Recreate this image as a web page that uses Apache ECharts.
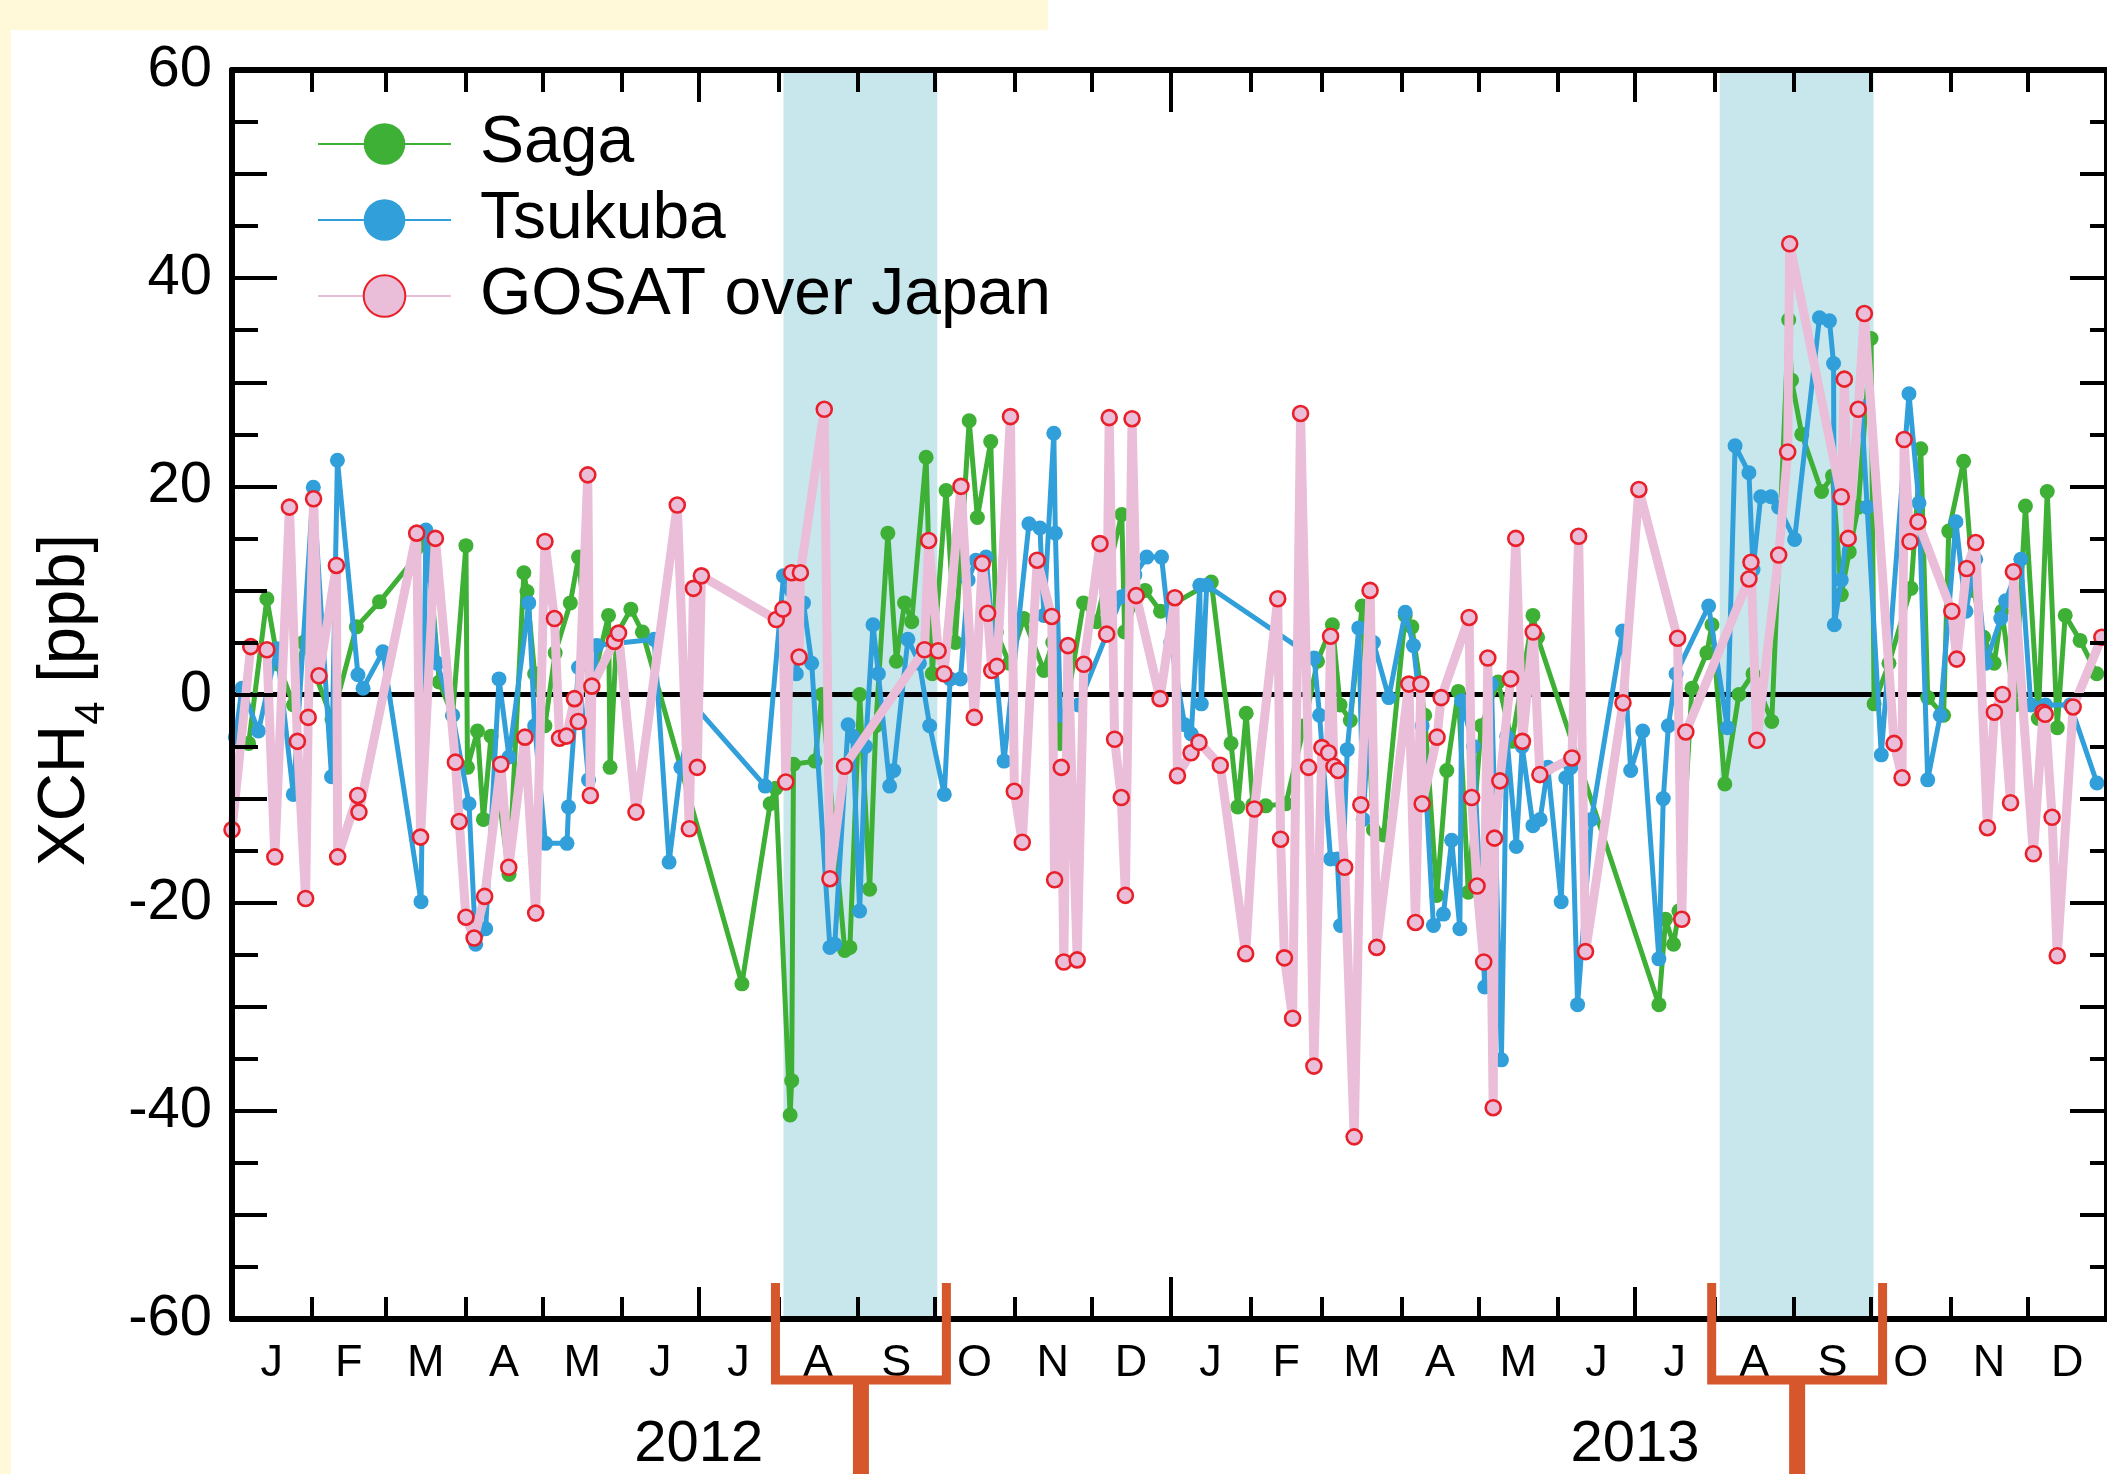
<!DOCTYPE html>
<html><head><meta charset="utf-8">
<script src="https://cdn.jsdelivr.net/npm/echarts@6/dist/echarts.min.js"></script>
<style>html,body{margin:0;padding:0;background:#fff;overflow:hidden}#c{width:2107px;height:1474px}</style>
</head><body><div id="c"></div>
<script>
// ---- data (x = days since 2012-01-01, y = XCH4 anomaly in ppb) ----
const monthLetters = ['J','F','M','A','M','J','J','A','S','O','N','D','J','F','M','A','M','J','J','A','S','O','N','D'];
const monthStartDays = [0,31,60,91,121,152,182,213,244,274,305,335,366,397,425,456,486,517,547,578,609,639,670,700,731];
const yearLabels = ['2012','2013'];
const halfYearDays = [182,547];
const yearStartDays = [366];
const shadedPeriods = [[215,275],[580,640]];
const yTicks = [-60,-40,-20,0,20,40,60];

const sagaDays = [6.5,13.6,18.1,24,27.8,39,48.5,57.5,76.3,80.8,86,91.2,91.8,95.7,98,101,108,113.8,115,118,122,126,131.9,135.1,140,146.8,147.4,150,155.5,160,198.8,209.8,212,217.6,218.2,218.9,227.3,230,238.9,240.9,244.7,248.6,251,255.7,259,262.2,265,270.6,273,278.4,282,287.4,290.6,295.8,298,303,308.7,316.5,320,322.9,332,337,346.9,348,353.3,356,362,381.8,389.5,392.1,395.4,398,403,410.9,418,423.2,429,432,436,440.6,445,449,457.4,460,465,469.7,473.6,478.1,482,487,493.6,499,507.2,509,556.3,558.9,562,564.1,569.2,575,577,582,587.5,593,600.3,606.9,608,612,619.7,624,627.4,630.5,634,639,640.2,646,654.6,658.4,661.1,667.3,669.3,675.1,679,682.9,687,690,695,699.2,704.2,707.7,711.6,714.7,720.5,727];
const sagaValues = [-4.7,9.2,2.9,-1,5,-2.4,6.5,8.9,14.6,1.2,-2,14.3,-7,-3.5,-12,-4,-17.3,11.7,9.9,2,-3,4,8.8,13.2,0.5,7.6,-7,5.8,8.2,6,-27.8,-10.5,-9,-40.4,-37.1,-6.7,-6.4,0,-24.6,-24.3,0,-18.7,-3,15.5,3.2,8.8,7,22.8,2,19.6,5,26.3,17,24.3,6,3,7.3,2.3,5,-4.7,8.8,7,17.3,6,9.6,10,8,10.8,-4.7,-10.8,-1.8,-10.6,-10.7,-10.5,-3,3.2,6.7,-1,-2.5,8.5,-13,-13.5,7.6,6.5,-2,-19.3,-7.3,0.3,-19,-3,1.2,-4.5,7.6,5.5,-29.8,-21.6,-24,-20.8,0.6,4,6.7,-8.6,0,2,-2.6,36,30.2,25,19.5,21,9.6,13.7,18,34.2,-0.9,3,10.2,23.6,-0.3,-2,15.7,22.4,10,5.5,3,8,-1,18.1,-2.3,19.5,-3.2,7.6,5.2,2];

const tsukubaDays = [1.3,3.9,10.3,17.5,23.9,31.7,38.8,41.1,49.1,51.1,58.8,73.7,75.6,80,86,92.4,95,98.9,104.1,108,115.7,118,122.2,130.6,131.2,135.1,139,142.2,164.6,170.4,175,180,207.9,215,218,220,222.8,226,233.1,235,240.2,242,244.7,247,249.9,252,256.4,258,263.5,268,272,277.7,280,284,287,290,294,301,310.7,315,316.5,320.4,321,323,330,346.9,352,356.6,362.4,366,371.4,374,377.3,377.9,380,421.9,424,428.3,430.9,432.2,434.8,439.3,441,445,451,457.4,460.6,464,468.4,472.3,475.5,478.7,479.4,484,488.4,491,494.9,497,500.7,503,507.2,510,513,518.2,520,522,524.6,530,542.1,545.3,550,556.3,558,560,563,575.7,583,586,591.4,593,596,600,603,609.2,618.9,622.8,624.4,624.7,627.4,635.2,637.5,643,653.8,657.7,661.1,666,672.1,676,679.8,683.7,689.6,691.5,697.4,701.3,707,716.7,727.1];
const tsukubaValues = [-4.1,0.6,-3.5,4.4,-9.6,19.9,-7.9,22.5,1.9,0.6,4.1,-19.9,15.8,3,-2,-10.5,-24,-22.5,1.5,-6,8.8,-3,-14.3,-14.3,-10.8,2.6,-8.2,4.7,5.3,-16.1,-7,-1,-8.8,11.4,10,2,8.8,3,-24.3,-24,-2.9,-4,-20.8,-5,6.7,2,-8.8,-7.3,5.3,3,-3,-9.6,1.5,1.5,11,12.9,13.2,-6.4,16.4,16,7.6,25.1,15.5,-2,-1,9.4,11.5,13.2,13.2,5,-2.9,-3.8,10.5,-0.9,10.5,3.5,-2,-15.8,-15.8,-22.2,-5.3,6.4,-12,5,-0.3,7.9,4.7,-3,-22.2,-21.1,-14,-22.5,-0.6,-5,-28.1,1,-35.1,-4,-14.6,-5,-12.6,-12,-7,-19.9,-8,-7,-29.8,-12,6.1,-7.3,-3.5,-25.4,-10,-3,2,8.5,-3.2,23.9,21.3,12,19,19,18,14.9,36.2,35.9,31.8,6.7,11,27.7,18,-5.8,28.9,18.4,-8.2,-2,16.6,8,13,3,7.3,9,13,-1,-1,-1,-8.5];

const gosatDays = [0,7.3,13.6,16.7,22.4,25.5,28.7,29.7,31.8,33.9,40.7,41.2,49,49.5,72,73.5,79.3,87.1,88.6,91.2,94.4,98.5,104.8,107.9,114.2,118.4,122,125.7,127.7,130.4,133.5,135,138.7,139.7,140.3,149.1,150.7,157.5,173.6,178.3,179.9,181.4,183,212.2,214.8,215.9,218.2,221.1,221.6,230.9,233.1,238.8,270,271.6,275.3,277.6,284.2,289.4,292.5,294.6,296.2,298.2,303.5,305,308.1,313.9,319.6,320.7,323.3,324.3,325.9,329.5,332.1,338.4,341,342,344.1,346.7,348.3,350.9,352.5,361.8,367.6,368.6,373.9,377,385.3,395.2,398.6,407.7,408.8,410.3,413.5,416.6,419.7,421.8,424.9,427.5,428.3,429.6,431.2,433.8,437.5,440.1,443.7,446.3,458.8,461.4,463.5,464,469.8,471.4,482.3,483.3,485.4,488,489.6,491.7,492.2,494.3,498.5,500.5,503.1,507.3,509.9,522.4,525,527.7,542.3,548.5,563.6,565.2,566.8,591.4,592.2,594.5,603,606.5,607.3,627.4,628.6,630.1,634,636.4,648,651.1,651.9,654.2,657.3,670.5,672.4,676.3,679.8,684.4,687.1,690.2,693.4,694.5,702.3,706.1,706.9,709.6,711.6,717.8,729];
const gosatValues = [-13,4.6,4.3,-15.6,18,-4.5,-19.6,-2.2,18.8,1.8,12.4,-15.6,-9.7,-11.3,15.5,-13.7,15,-6.5,-12.2,-21.4,-23.4,-19.4,-6.7,-16.6,-4.1,-21,14.7,7.3,-4.2,-4,-0.4,-2.6,21.1,-9.7,0.8,5.1,5.9,-11.3,18.2,-12.9,10.2,-7,11.4,7.2,8.2,-8.4,11.7,3.6,11.7,27.4,-17.7,-6.9,4.3,14.8,4.2,2,20,-2.2,12.6,7.8,2.3,2.7,26.7,-9.3,-14.2,12.9,7.5,-17.8,-7,-25.7,4.7,-25.5,2.9,14.5,5.8,26.6,-4.3,-9.9,-19.3,26.5,9.5,-0.4,9.3,-7.8,-5.6,-4.6,-6.8,-24.9,-11,9.2,-13.9,-25.3,-31.1,27,-7,-35.7,-5.1,-5.6,5.6,-6.9,-7.3,-16.6,-42.5,-10.6,10,-24.3,1,-21.9,1,-10.5,-4.1,-0.3,7.4,-9.9,-18.4,-25.7,3.5,-39.7,-13.8,-8.3,1.5,15,-4.5,6,-7.7,-6.1,15.2,-24.7,-0.8,19.7,5.4,-21.6,-3.6,11.1,12.7,-4.4,13.4,23.3,43.3,19,30.3,15,27.4,36.6,-4.7,-8,24.5,14.7,16.6,8,3.4,12.1,14.6,-12.8,-1.7,0,-10.4,11.8,-15.3,-1.7,-1.9,-11.8,-25.1,-1.2,5.5];

// ---- chart ----
const FONT = '"Liberation Sans", Arial, Helvetica, sans-serif';
const pairs = (xs, ys) => xs.map((x, i) => [x, ys[i]]);
const monthMidDays = monthStartDays.slice(0, -1).map((d, i) => (d + monthStartDays[i + 1]) / 2);
const tickLine = {color: '#000', width: 4};
const axisLineStyle = {color: '#000', width: 6};

function xAx(pos, ticks, len, extra) {
  return Object.assign({
    type: 'value', position: pos, min: 0, max: 731, z: 10,
    splitLine: {show: false},
    axisLine: {show: false, onZero: false},
    axisLabel: {show: false},
    axisTick: {show: true, inside: true, length: len, lineStyle: tickLine, customValues: ticks}
  }, extra || {});
}
function yAx(pos, interval, len, extra) {
  return Object.assign({
    type: 'value', position: pos, min: -60, max: 60, interval: interval, z: 10,
    splitLine: {show: false},
    axisLine: {show: false, onZero: false},
    axisLabel: {show: false},
    axisTick: {show: true, inside: true, length: len, lineStyle: tickLine}
  }, extra || {});
}

const chart = echarts.init(document.getElementById('c'), null, {renderer: 'canvas'});
const option = {
  animation: false,
  backgroundColor: 'transparent',
  textStyle: {fontFamily: FONT},
  grid: {left: 232, top: 70, width: 1885, height: 1260, containLabel: false},
  xAxis: [
    xAx('bottom', monthStartDays.slice(1, -1), 22, {
      axisLine: {show: true, onZero: false, lineStyle: axisLineStyle},
      axisLabel: {show: true, customValues: monthMidDays, fontSize: 45, color: '#000', fontFamily: FONT, margin: 22,
        formatter: v => monthLetters[monthMidDays.indexOf(v)] || ''}
    }),
    xAx('bottom', halfYearDays, 32, {
      axisLabel: {show: true, customValues: halfYearDays, fontSize: 58, color: '#000', fontFamily: FONT, margin: 97,
        formatter: v => yearLabels[halfYearDays.indexOf(v)] || ''}
    }),
    xAx('bottom', yearStartDays, 42),
    xAx('top', monthStartDays.slice(1, -1), 22, {
      axisLine: {show: true, onZero: false, lineStyle: axisLineStyle}
    }),
    xAx('top', halfYearDays, 32),
    xAx('top', yearStartDays, 42)
  ],
  yAxis: [
    yAx('left', 20, 45, {
      axisLine: {show: true, onZero: false, lineStyle: axisLineStyle},
      axisLabel: {show: true, fontSize: 58, color: '#000', fontFamily: FONT, margin: 20,
        customValues: yTicks},
      minorTick: {show: true, splitNumber: 4, length: 26, lineStyle: tickLine}
    }),
    yAx('left', 10, 35),
    yAx('right', 20, 37, {
      axisLine: {show: true, onZero: false, lineStyle: axisLineStyle},
      minorTick: {show: true, splitNumber: 4, length: 17, lineStyle: tickLine}
    }),
    yAx('right', 10, 27)
  ],
  legend: {
    show: true, orient: 'vertical', left: 312, top: 106,
    itemWidth: 133, itemHeight: 52, itemGap: 10, selectedMode: false,
    textStyle: {fontSize: 66, color: '#000', fontFamily: FONT, padding: [0, 0, 0, 24]},
    data: ['Saga', 'Tsukuba', 'GOSAT over Japan']
  },
  series: [
    {
      name: 'shade', type: 'line', data: [], xAxisIndex: 0, yAxisIndex: 0, z: 1, silent: true,
      markArea: {silent: true, z: 1, itemStyle: {color: '#C8E7ED'},
        data: shadedPeriods.map(p => [{xAxis: p[0]}, {xAxis: p[1]}])}
    },
    {
      name: 'zero', type: 'line', data: [], xAxisIndex: 0, yAxisIndex: 0, z: 2, silent: true,
      markLine: {silent: true, z: 2, symbol: ['none', 'none'], label: {show: false},
        lineStyle: {color: '#000', width: 5, type: 'solid'}, data: [{yAxis: 0}]}
    },
    {
      name: 'Saga', type: 'line', xAxisIndex: 0, yAxisIndex: 0, z: 5,
      data: pairs(sagaDays, sagaValues),
      symbol: 'circle', symbolSize: 15, showAllSymbol: true,
      lineStyle: {color: '#3DB035', width: 5},
      itemStyle: {color: '#3DB035'}
    },
    {
      name: 'Tsukuba', type: 'line', xAxisIndex: 0, yAxisIndex: 0, z: 6,
      data: pairs(tsukubaDays, tsukubaValues),
      symbol: 'circle', symbolSize: 15, showAllSymbol: true,
      lineStyle: {color: '#309FDA', width: 5},
      itemStyle: {color: '#309FDA'}
    },
    {
      name: 'GOSAT over Japan', type: 'line', xAxisIndex: 0, yAxisIndex: 0, z: 7,
      data: pairs(gosatDays, gosatValues),
      symbol: 'circle', symbolSize: 15, showAllSymbol: true,
      lineStyle: {color: '#EABDD8', width: 9},
      itemStyle: {color: '#EABDD8', borderColor: '#E8202A', borderWidth: 2.6}
    }
  ],
  graphic: [
    {type: 'rect', z: -10, shape: {x: 0, y: 0, width: 1048, height: 30}, style: {fill: '#FFF9DA'}},
    {type: 'rect', z: -10, shape: {x: 0, y: 0, width: 11, height: 1474}, style: {fill: '#FFF9DA'}},
    {type: 'text', z: 50, x: 80, y: 700, rotation: Math.PI / 2,
      style: {text: '{a|XCH}{s|4}{a| [ppb]}', align: 'center', verticalAlign: 'middle', fill: '#000',
        rich: {
          a: {fontSize: 67, fontFamily: FONT, fill: '#000', lineHeight: 67, verticalAlign: 'bottom', padding: [0, 0, 14, 0]},
          s: {fontSize: 42, fontFamily: FONT, fill: '#000', lineHeight: 42, verticalAlign: 'bottom'}
        }}}
  ]
};
chart.setOption(option);

// orange brackets below the shaded periods, positioned from the axis scale
const bottomY = chart.convertToPixel({yAxisIndex: 0}, -60);
const extra = [];
shadedPeriods.forEach((p) => {
  const l = chart.convertToPixel({xAxisIndex: 0}, p[0]) - 8;
  const r = chart.convertToPixel({xAxisIndex: 0}, p[1]) + 9;
  const top = bottomY - 36, bot = bottomY + 61, c = (l + r) / 2;
  extra.push({type: 'polyline', z: 60, shape: {points: [[l, top], [l, bot], [r, bot], [r, top]]},
    style: {stroke: '#D5572B', lineWidth: 9, fill: null, lineJoin: 'miter'}});
  extra.push({type: 'line', z: 60, shape: {x1: c, y1: bot, x2: c, y2: 1480},
    style: {stroke: '#D5572B', lineWidth: 16}});
});
chart.setOption({graphic: option.graphic.concat(extra)});
</script>
</body></html>
